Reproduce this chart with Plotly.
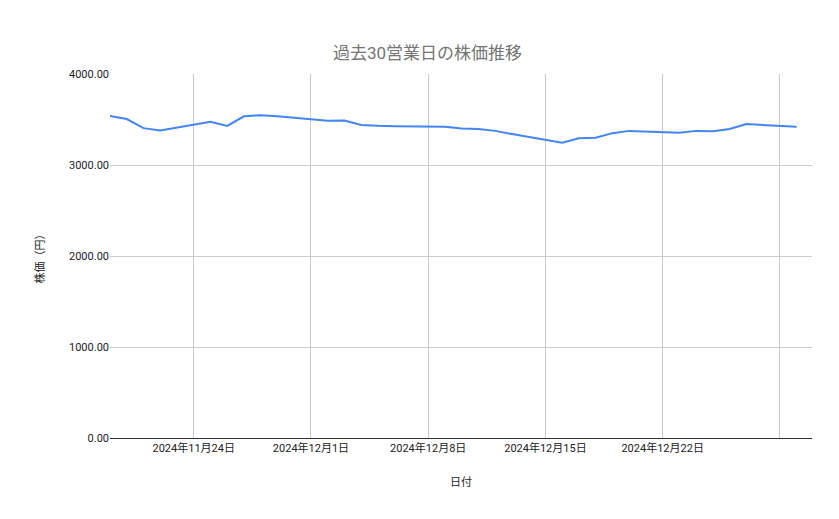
import plotly.graph_objects as go

dates = ["2024-11-19", "2024-11-20", "2024-11-21", "2024-11-22", "2024-11-25", "2024-11-26",
         "2024-11-27", "2024-11-28", "2024-11-29", "2024-12-02", "2024-12-03", "2024-12-04",
         "2024-12-05", "2024-12-06", "2024-12-09", "2024-12-10", "2024-12-11", "2024-12-12",
         "2024-12-13", "2024-12-16", "2024-12-17", "2024-12-18", "2024-12-19", "2024-12-20",
         "2024-12-23", "2024-12-24", "2024-12-25", "2024-12-26", "2024-12-27", "2024-12-30"]
prices = [3540, 3505, 3405, 3380, 3475, 3430, 3535, 3548, 3535, 3485, 3488, 3440,
          3430, 3425, 3420, 3400, 3395, 3375, 3340, 3245, 3295, 3300, 3350, 3375,
          3355, 3375, 3370, 3395, 3450, 3420]

tick_vals = ["2024-11-24", "2024-12-01", "2024-12-08", "2024-12-15", "2024-12-22", "2024-12-29"]
tick_text = ["2024年11月24日", "2024年12月1日", "2024年12月8日", "2024年12月15日", "2024年12月22日", ""]

fig = go.Figure(go.Scatter(x=dates, y=prices, mode="lines",
                           line=dict(color="#4285F4", width=2)))

fig.update_layout(
    width=839, height=519,
    margin=dict(l=102, r=35, t=66, b=89),
    paper_bgcolor="white", plot_bgcolor="white",
    font=dict(family="Roboto, Noto Sans CJK JP", size=11, color="#222"),
    title=dict(text="過去30営業日の株価推移", x=0.5, y=0.925, xanchor="center",
               font=dict(size=17, color="#757575")),
    showlegend=False,
)
fig.update_xaxes(
    type="date", range=["2024-11-19", "2024-12-30 22:00"],
    tickvals=tick_vals, ticktext=tick_text,
    showgrid=True, gridcolor="#cccccc", showline=True, linecolor="#333",
    ticks="", title=dict(text="日付", font=dict(size=11), standoff=24),
)
fig.update_yaxes(
    range=[0, 4000], tickvals=[0, 1000, 2000, 3000, 4000], tickformat=".2f",
    showgrid=True, gridcolor="#cccccc", zeroline=False,
    title=dict(text="株価（円）", font=dict(size=11), standoff=22),
)

fig.write_html("out.html")
